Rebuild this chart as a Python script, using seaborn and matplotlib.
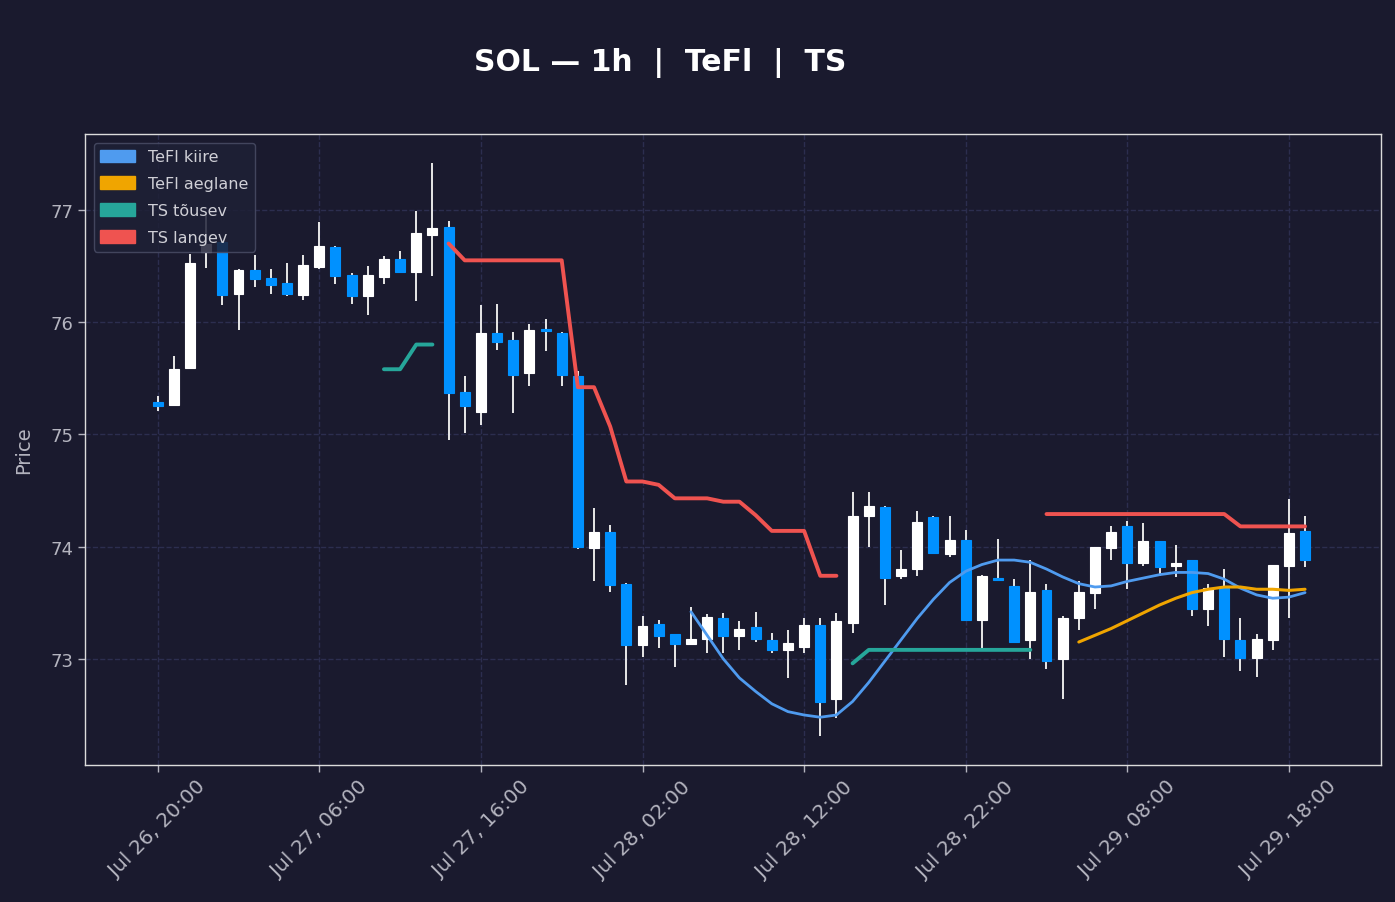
import numpy as np
import pandas as pd
import matplotlib
matplotlib.use("Agg")
import matplotlib.pyplot as plt
import matplotlib.dates as mdates
from matplotlib.patches import Patch
import seaborn as sns

# ===== Data: SOL 1h candles =====
start = "2025-07-26 20:00"
n_bars = 72

opens = [75.29, 75.26, 75.59, 76.62, 76.71, 76.25, 76.46, 76.39, 76.35, 76.24,
         76.49, 76.67, 76.42, 76.23, 76.40, 76.56, 76.45, 76.78, 76.85, 75.38,
         75.20, 75.90, 75.84, 75.55, 75.94, 75.90, 75.52, 73.99, 74.13, 73.67,
         73.12, 73.31, 73.22, 73.13, 73.18, 73.36, 73.20, 73.28, 73.17, 73.08,
         73.11, 73.30, 72.64, 73.32, 74.27, 74.35, 73.74, 73.80, 74.26, 73.93,
         74.06, 73.35, 73.72, 73.65, 73.17, 73.61, 73.00, 73.36, 73.59, 73.99,
         74.18, 73.85, 74.05, 73.83, 73.88, 73.44, 73.63, 73.17, 73.01, 73.17,
         73.83, 74.14]
highs = [75.34, 75.70, 76.61, 76.96, 76.72, 76.47, 76.60, 76.47, 76.53, 76.60,
         76.89, 76.68, 76.44, 76.50, 76.59, 76.63, 76.99, 77.42, 76.90, 75.52,
         76.15, 76.16, 75.91, 75.98, 76.03, 75.91, 75.56, 74.34, 74.19, 73.68,
         73.38, 73.35, 73.22, 73.46, 73.40, 73.41, 73.34, 73.42, 73.23, 73.26,
         73.36, 73.36, 73.41, 74.49, 74.49, 74.36, 73.97, 74.32, 74.27, 74.27,
         74.15, 73.75, 74.07, 73.71, 73.88, 73.67, 73.38, 73.69, 74.00, 74.18,
         74.23, 74.21, 74.05, 74.01, 73.88, 73.67, 73.80, 73.36, 73.22, 73.84,
         74.42, 74.27]
lows = [75.21, 75.25, 75.58, 76.48, 76.15, 75.93, 76.31, 76.25, 76.23, 76.20,
        76.47, 76.34, 76.16, 76.06, 76.34, 76.44, 76.19, 76.41, 74.95, 75.01,
        75.08, 75.75, 75.19, 75.43, 75.74, 75.43, 73.98, 73.69, 73.60, 72.77,
        73.02, 73.10, 72.93, 73.13, 73.05, 73.05, 73.08, 73.15, 73.05, 72.83,
        73.05, 72.31, 72.47, 73.23, 74.00, 73.48, 73.71, 73.74, 73.93, 73.91,
        73.34, 73.09, 73.69, 73.15, 73.00, 72.91, 72.64, 73.26, 73.44, 73.88,
        73.62, 73.83, 73.74, 73.73, 73.38, 73.29, 73.02, 72.89, 72.84, 73.08,
        73.36, 73.82]
closes = [75.25, 75.58, 76.53, 76.70, 76.24, 76.46, 76.38, 76.33, 76.25, 76.51,
          76.68, 76.41, 76.23, 76.42, 76.56, 76.45, 76.79, 76.84, 75.37, 75.25,
          75.90, 75.82, 75.53, 75.93, 75.92, 75.53, 74.00, 74.13, 73.66, 73.12,
          73.29, 73.20, 73.13, 73.18, 73.37, 73.20, 73.27, 73.18, 73.08, 73.14,
          73.30, 72.62, 73.34, 74.27, 74.36, 73.72, 73.80, 74.22, 73.94, 74.06,
          73.35, 73.74, 73.70, 73.15, 73.60, 72.98, 73.36, 73.60, 74.00, 74.13,
          73.85, 74.05, 73.82, 73.85, 73.44, 73.63, 73.18, 73.01, 73.18, 73.84,
          74.12, 73.88]

# ===== Indicator lines (NaN where the line is not drawn) =====
nan = np.nan
tefl_kiire = [nan] * 33 + [
    73.42, 73.21, 73.00, 72.83, 72.71, 72.60, 72.53, 72.50, 72.48, 72.50,
    72.62, 72.79, 72.98, 73.17, 73.36, 73.53, 73.68, 73.78, 73.84, 73.88,
    73.88, 73.86, 73.80, 73.73, 73.67, 73.64, 73.65, 73.69, 73.72, 73.75,
    73.77, 73.77, 73.76, 73.71, 73.63, 73.57, 73.54, 73.55, 73.59]
tefl_aeglane = [nan] * 57 + [
    73.15, 73.21, 73.27, 73.34, 73.41, 73.48, 73.54, 73.59, 73.62, 73.64,
    73.64, 73.62, 73.62, 73.61, 73.62]
ts_tousev = [nan] * 14 + [75.58, 75.58, 75.80, 75.80] + [nan] * 25 + [
    72.96, 73.08, 73.08, 73.08, 73.08, 73.08, 73.08, 73.08, 73.08, 73.08,
    73.08, 73.08] + [nan] * 17
ts_langev = [nan] * 18 + [
    76.70, 76.55, 76.55, 76.55, 76.55, 76.55, 76.55, 76.55, 75.42, 75.42,
    75.07, 74.58, 74.58, 74.55, 74.43, 74.43, 74.43, 74.40, 74.40, 74.28,
    74.14, 74.14, 74.14, 73.74, 73.74] + [nan] * 12 + [
    74.29, 74.29, 74.29, 74.29, 74.29, 74.29, 74.29, 74.29, 74.29, 74.29,
    74.29, 74.29, 74.18, 74.18, 74.18, 74.18, 74.18]

series_names = ["TeFl kiire", "TeFl aeglane", "TS tõusev", "TS langev"]
series_colors = ["#4f9bef", "#f0a500", "#26a69a", "#ef5350"]
series_widths = [2.0, 2.2, 2.8, 2.8]

df = pd.DataFrame({
    "time": pd.date_range(start, periods=n_bars, freq="h"),
    "open": opens, "high": highs, "low": lows, "close": closes,
    "TeFl kiire": tefl_kiire, "TeFl aeglane": tefl_aeglane,
    "TS tõusev": ts_tousev, "TS langev": ts_langev,
})

# ===== Style =====
BG = "#1a1a2e"
GRID = "#2c2e4f"
TXT = "#b4b4bf"
UP = "#ffffff"
DOWN = "#0091ff"

sns.set_theme(style="dark", rc={
    "figure.facecolor": BG, "axes.facecolor": BG, "savefig.facecolor": BG,
    "axes.edgecolor": "#dcdcdc", "axes.linewidth": 1.0,
    "grid.color": GRID, "grid.linestyle": "--", "grid.linewidth": 1.0,
    "xtick.color": TXT, "ytick.color": TXT, "axes.labelcolor": TXT,
    "text.color": TXT, "xtick.bottom": True, "ytick.left": True,
})
plt.rcParams["font.family"] = ["DejaVu Sans"]

fig = plt.figure(figsize=(13.95, 9.03), dpi=100)
ax = fig.add_axes([85 / 1395, 1 - 766 / 903, 1296 / 1395, 631 / 903])

# ===== Candles =====
bar_w = pd.Timedelta(minutes=37)
is_up = df["close"] >= df["open"]
body_lo = df[["open", "close"]].min(axis=1)
body_h = (df["close"] - df["open"]).abs().clip(lower=0.018)
colors = np.where(is_up, UP, DOWN)

ax.vlines(df["time"], df["low"], df["high"], color="#e8e8e8", linewidth=1.4, zorder=2)
ax.bar(df["time"], body_h, bottom=body_lo, width=bar_w, color=colors,
       edgecolor=colors, linewidth=0.8, zorder=3)

# ===== Indicator lines, one call per unbroken stretch =====
for name, col, lw in zip(series_names, series_colors, series_widths):
    run = df[["time", name]].copy()
    run["seg"] = run[name].isna().cumsum()
    run = run.dropna()
    for _, part in run.groupby("seg"):
        sns.lineplot(data=part, x="time", y=name, ax=ax, color=col,
                     linewidth=lw, zorder=4, legend=False)

# ===== Axes =====
ax.set_xlim(df["time"].iloc[0] - pd.Timedelta(hours=4.5),
            df["time"].iloc[-1] + pd.Timedelta(hours=4.7))
ax.margins(y=0.05)
ax.set_xticks(df["time"].iloc[::10])
ax.xaxis.set_major_formatter(mdates.DateFormatter("%b %d, %H:%M"))
ax.tick_params(axis="both", length=5, width=1, colors=TXT)
ax.tick_params(axis="y", labelsize=13)
ax.tick_params(axis="x", labelsize=14.5)
plt.setp(ax.get_xticklabels(), rotation=45, ha="center")
ax.grid(True, which="major", axis="both")
ax.set_xlabel("")
ax.set_ylabel("Price", fontsize=14, labelpad=12)

handles = [Patch(facecolor=c, edgecolor=c, label=n) for n, c in zip(series_names, series_colors)]
leg = ax.legend(handles=handles, loc="upper left", fontsize=11.5, frameon=True,
                facecolor="#1e2036", edgecolor="#4a4d66", framealpha=0.85,
                borderaxespad=0.55, handlelength=2.2, handleheight=0.8,
                labelspacing=0.75)
leg.set_zorder(10)
for t in leg.get_texts():
    t.set_color("#cfcfd6")

fig.text(660 / 1395, 1 - 63 / 903, "SOL — 1h  |  TeFl  |  TS", ha="center", va="center",
         fontsize=21.5, fontweight="bold", color="white")

fig.savefig("out.png", dpi=100, facecolor=BG)
